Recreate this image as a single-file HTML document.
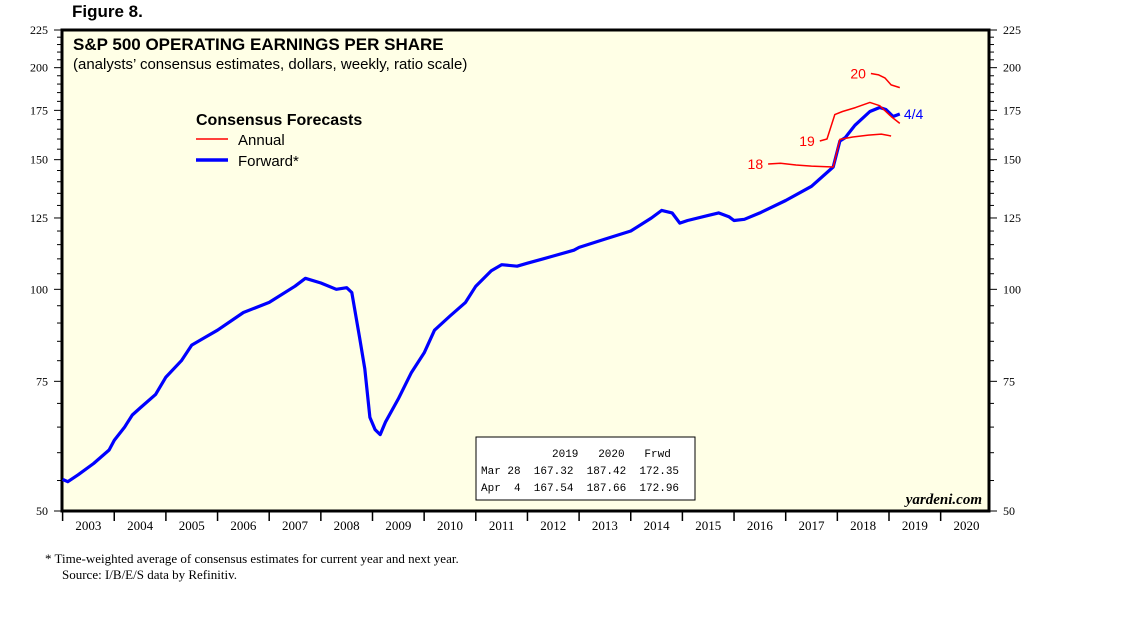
<!DOCTYPE html>
<html><head><meta charset="utf-8"><style>
body{margin:0;background:#fff;}
svg{display:block;}
</style></head><body>
<svg id="chart" width="1138" height="621" xmlns="http://www.w3.org/2000/svg">
<text x="72" y="17" font-family="Liberation Sans, sans-serif" font-weight="bold" font-size="17">Figure 8.</text>
<rect x="62" y="30" width="927" height="481" fill="#FFFFE6" stroke="#000" stroke-width="3"/>
<text x="73" y="50" font-family="Liberation Sans, sans-serif" font-weight="bold" font-size="17">S&amp;P 500 OPERATING EARNINGS PER SHARE</text>
<text x="73" y="69" font-family="Liberation Sans, sans-serif" font-size="15">(analysts’ consensus estimates, dollars, weekly, ratio scale)</text>
<g>
<text x="196" y="125" font-family="Liberation Sans, sans-serif" font-weight="bold" font-size="16">Consensus Forecasts</text>
<line x1="196" y1="139" x2="228" y2="139" stroke="#f00" stroke-width="1.5"/>
<text x="238" y="145" font-family="Liberation Sans, sans-serif" font-size="15">Annual</text>
<line x1="196" y1="160" x2="228" y2="160" stroke="#00f" stroke-width="3.5"/>
<text x="238" y="166" font-family="Liberation Sans, sans-serif" font-size="15">Forward*</text>
</g>
<g id="axes"></g>
<g id="series"></g>
<g font-family="Liberation Mono, monospace" font-size="11">
<rect x="476" y="437" width="219" height="63" fill="#fff" stroke="#000" stroke-width="1"/>
<text x="552" y="457" xml:space="preserve">2019   2020   Frwd</text>
<text x="481" y="474" xml:space="preserve">Mar 28  167.32  187.42  172.35</text>
<text x="481" y="491" xml:space="preserve">Apr  4  167.54  187.66  172.96</text>
</g>
<text x="982" y="504" text-anchor="end" font-family="Liberation Serif, serif" font-style="italic" font-weight="bold" font-size="15">yardeni.com</text>
<text x="45" y="563" font-family="Liberation Serif, serif" font-size="13">*   Time-weighted average of consensus estimates for current year and next year.</text>
<text x="62" y="579" font-family="Liberation Serif, serif" font-size="13">Source: I/B/E/S data by Refinitiv.</text>
</svg>
<script>
const yTicks=[50,75,100,125,150,175,200,225];
const years=[2003,2004,2005,2006,2007,2008,2009,2010,2011,2012,2013,2014,2015,2016,2017,2018,2019,2020];
const fwdT=[2003.0,2003.1,2003.3,2003.6,2003.9,2004.0,2004.2,2004.35,2004.5,2004.8,2005.0,2005.3,2005.5,2005.75,2006.0,2006.5,2007.0,2007.5,2007.7,2008.0,2008.3,2008.5,2008.6,2008.75,2008.85,2008.95,2009.05,2009.15,2009.25,2009.5,2009.75,2010.0,2010.2,2010.5,2010.8,2011.0,2011.3,2011.5,2011.8,2012.0,2012.3,2012.5,2012.9,2013.0,2013.5,2014.0,2014.4,2014.6,2014.8,2014.95,2015.1,2015.5,2015.7,2015.9,2016.0,2016.2,2016.5,2017.0,2017.5,2017.92,2018.05,2018.15,2018.34,2018.63,2018.82,2018.94,2019.08,2019.21];
const fwdV=[55.2,54.8,56,58,60.5,62.4,65,67.5,69,72,76,80,84,86,88,93,96,101,103.5,102,100,100.5,99,86,78,67,64.5,63.5,66,71,77,82,88,92,96,101,106,108,107.5,108.5,110,111,113,114,117,120,125,128,127,123,124,126,127,125.5,124,124.5,127,132,138,146.6,159,160.6,167,174.4,176.6,175.5,171.7,173];
const a18T=[2016.66,2016.9,2017.2,2017.5,2017.92,2018.05,2018.3,2018.6,2018.85,2019.04];
const a18V=[148,148.3,147.5,147,146.6,159.8,161,162,162.5,161.5];
const a19T=[2017.66,2017.8,2017.95,2018.1,2018.35,2018.63,2018.82,2019.04,2019.21];
const a19V=[159,160,172.7,174.4,176.5,179.4,177.6,171.7,168];
const a20T=[2018.65,2018.8,2018.92,2019.04,2019.21];
const a20V=[196.4,195.5,193.7,189.5,187.9];
const NS="http://www.w3.org/2000/svg";
const X0=62,X1=989,Y0=30,Y1=511,VMAX=225,VMIN=50;
function xs(t){return 62.6+(t-2003)*51.65;}
function ys(v){return Y0+(Y1-Y0)*Math.log(VMAX/v)/Math.log(VMAX/VMIN);}
function mk(tag,attrs,parent){const e=document.createElementNS(NS,tag);for(const k in attrs)e.setAttribute(k,attrs[k]);parent.appendChild(e);return e;}
const axes=document.getElementById('axes'),series=document.getElementById('series');
for(let v=50;v<=225;v+=5){
  const y=ys(v),major=yTicks.includes(v);
  const l=mk('line',{x1:X0-(major?8:5),x2:X0,y1:y,y2:y,stroke:'#000','stroke-width':1},axes);
  
  
  const r=mk('line',{x1:X1,x2:X1+(major?8:5),y1:y,y2:y,stroke:'#000','stroke-width':1},axes);
  
  
}
yTicks.forEach(v=>{
  const y=ys(v);
  const a=mk('text',{x:X0-14,y:y+4,'text-anchor':'end','font-family':'Liberation Serif, serif','font-size':12},axes);a.textContent=v;
  
  
  const b=mk('text',{x:X1+14,y:y+4,'font-family':'Liberation Serif, serif','font-size':12},axes);b.textContent=v;
  
  
});
years.forEach(yr=>{
  const x=xs(yr);
  const t=mk('line',{x1:x,x2:x,y1:Y1,y2:Y1+10,stroke:'#000','stroke-width':1.5},axes);
  
  
  const lb=mk('text',{x:xs(yr+0.5),y:Y1+19,'text-anchor':'middle','font-family':'Liberation Serif, serif','font-size':13},axes);lb.textContent=yr;
  
  
});
function path(T,V,color,w,name){
  const d=T.map((t,i)=>(i?'L':'M')+xs(t).toFixed(1)+','+ys(V[i]).toFixed(1)).join(' ');
  const p=mk('path',{d:d,fill:'none',stroke:color,'stroke-width':w,'stroke-linejoin':'round'},series);
  
  
}
path(fwdT,fwdV,'#00f',3.2,'forward-line');
path(a18T,a18V,'#f00',1.5,'annual-2018-line');
path(a19T,a19V,'#f00',1.5,'annual-2019-line');
path(a20T,a20V,'#f00',1.5,'annual-2020-line');
function lab(txt,t,v,dx,color,name){
  const e=mk('text',{x:xs(t)+dx,y:ys(v)+5,'text-anchor':dx<0?'end':'start','font-family':'Liberation Sans, sans-serif','font-size':14,fill:color},series);
  e.textContent=txt;
  
  
}
lab('18',a18T[0],a18V[0],-5,'#f00','label-2018');
lab('19',a19T[0],a19V[0],-5,'#f00','label-2019');
lab('20',a20T[0],a20V[0],-5,'#f00','label-2020');
lab('4/4',fwdT[fwdT.length-1],fwdV[fwdV.length-1],4,'#00f','label-latest');
</script>
</body></html>
